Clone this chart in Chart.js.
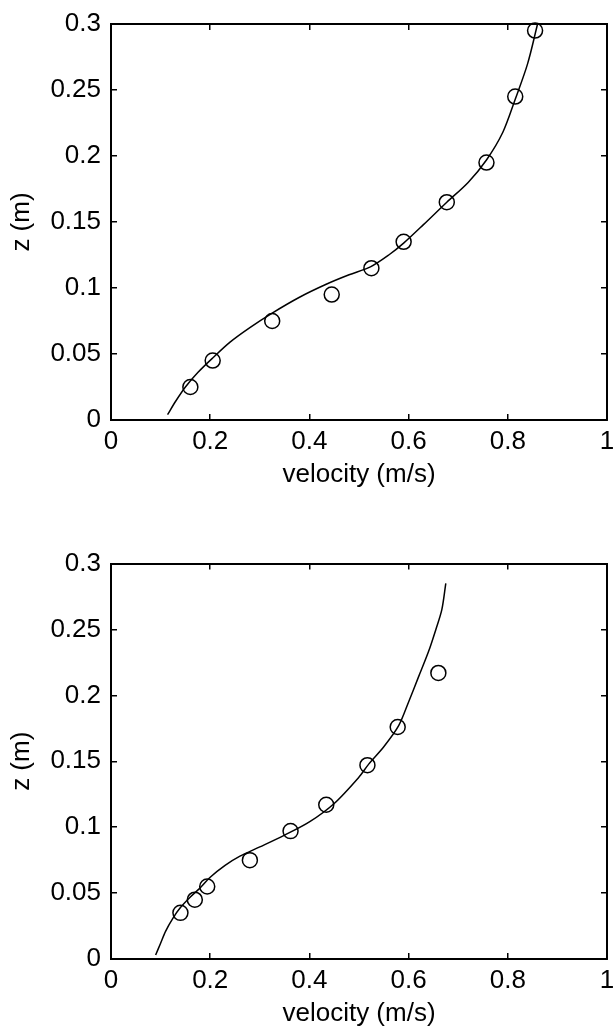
<!DOCTYPE HTML>
<html>
<head>
  <script src="https://cdn.jsdelivr.net/npm/chart.js"></script>
  <style>
    body { margin: 0; background: #fff; }
    canvas { display: block; }
  </style>
</head>
<body>
  <canvas id="topChart" width="616" height="516"></canvas>
  <canvas id="bottomChart" width="616" height="516"></canvas>

  <script>
    // tick labels
    var xTickLabels = ['0', '0.2', '0.4', '0.6', '0.8', '1'];
    var yTickLabels = ['0', '0.05', '0.1', '0.15', '0.2', '0.25', '0.3'];

    // top profile: measured points
    var topPointsV = [0.16, 0.205, 0.325, 0.445, 0.525, 0.59, 0.677, 0.757, 0.815, 0.855];
    var topPointsZ = [0.025, 0.045, 0.075, 0.095, 0.115, 0.135, 0.165, 0.195, 0.245, 0.295];
    // top profile: fitted curve
    var topCurveV = [0.114, 0.13, 0.15, 0.175, 0.205, 0.24, 0.28, 0.325, 0.38, 0.435, 0.48, 0.523, 0.56, 0.59, 0.63, 0.677, 0.72, 0.757, 0.79, 0.815, 0.84, 0.86];
    var topCurveZ = [0.004, 0.014, 0.025, 0.036, 0.047, 0.059, 0.07, 0.081, 0.093, 0.103, 0.11, 0.116, 0.125, 0.134, 0.148, 0.165, 0.18, 0.197, 0.218, 0.243, 0.27, 0.3];

    // bottom profile: measured points
    var botPointsV = [0.14, 0.169, 0.194, 0.28, 0.362, 0.434, 0.517, 0.578, 0.66];
    var botPointsZ = [0.035, 0.045, 0.055, 0.075, 0.097, 0.117, 0.147, 0.176, 0.217];
    // bottom profile: fitted curve
    var botCurveV = [0.09, 0.1, 0.11, 0.125, 0.14, 0.16, 0.18, 0.2, 0.23, 0.26, 0.3, 0.35, 0.4, 0.45, 0.5, 0.52, 0.55, 0.58, 0.6, 0.62, 0.64, 0.655, 0.667, 0.675];
    var botCurveZ = [0.003, 0.012, 0.021, 0.031, 0.039, 0.047, 0.054, 0.062, 0.071, 0.078, 0.085, 0.094, 0.104, 0.118, 0.138, 0.148, 0.161, 0.177, 0.195, 0.214, 0.233, 0.25, 0.265, 0.285];

    var FONT = { family: '"Liberation Sans", Arial, sans-serif', size: 26 };

    function pairs(xs, ys) {
      return xs.map(function (x, i) { return { x: x, y: ys[i] }; });
    }

    function noPad(s) {
      s.paddingLeft = 0; s.paddingRight = 0; s.paddingTop = 0; s.paddingBottom = 0;
    }

    function makeChart(id, curveV, curveZ, ptsV, ptsZ, padTop, xHeight, xTitlePad) {
      var tickGrid = { drawOnChartArea: false, drawTicks: true, tickLength: -6, color: '#000', lineWidth: 1.5 };
      var border = { display: true, color: '#000', width: 2 };
      return new Chart(document.getElementById(id).getContext('2d'), {
        type: 'scatter',
        data: {
          datasets: [
            {
              data: pairs(curveV, curveZ),
              showLine: true,
              borderColor: '#000',
              borderWidth: 1.5,
              pointRadius: 0,
              tension: 0.3,
              clip: false
            },
            {
              data: pairs(ptsV, ptsZ),
              showLine: false,
              pointStyle: 'circle',
              pointRadius: 7.5,
              borderColor: '#000',
              borderWidth: 1.5,
              backgroundColor: 'rgba(0,0,0,0)',
              clip: false
            }
          ]
        },
        options: {
          responsive: false,
          animation: false,
          events: [],
          layout: { padding: { left: 0, right: 3, top: padTop, bottom: 0 } },
          plugins: { legend: { display: false }, tooltip: { enabled: false } },
          scales: {
            x: {
              position: 'bottom', min: 0, max: 1,
              grid: tickGrid, border: border,
              ticks: {
                stepSize: 0.2, color: '#000', font: FONT, padding: 12, maxRotation: 0,
                callback: function (v, i) { return xTickLabels[i]; }
              },
              title: { display: true, text: 'velocity (m/s)', color: '#000', font: FONT, padding: { top: 0, bottom: xTitlePad } },
              afterFit: function (s) { s.height = xHeight; noPad(s); }
            },
            x2: {
              position: 'top', min: 0, max: 1,
              grid: tickGrid, border: border,
              ticks: { display: false, stepSize: 0.2 },
              afterFit: function (s) { s.height = 0; noPad(s); }
            },
            y: {
              position: 'left', min: 0, max: 0.3,
              grid: tickGrid, border: border,
              ticks: {
                stepSize: 0.05, color: '#000', font: FONT, padding: 16,
                callback: function (v, i) { return yTickLabels[i]; }
              },
              title: { display: true, text: 'z (m)', color: '#000', font: FONT, padding: { top: 6, bottom: 0 } },
              afterFit: function (s) { s.width = 111; noPad(s); }
            },
            y2: {
              position: 'right', min: 0, max: 0.3,
              grid: tickGrid, border: border,
              ticks: { display: false, stepSize: 0.05 },
              afterFit: function (s) { s.width = 0; noPad(s); }
            }
          }
        }
      });
    }

    makeChart('topChart', topCurveV, topCurveZ, topPointsV, topPointsZ, 24, 96, 26);
    makeChart('bottomChart', botCurveV, botCurveZ, botPointsV, botPointsZ, 47.5, 73, 3);
  </script>
</body>
</html>
